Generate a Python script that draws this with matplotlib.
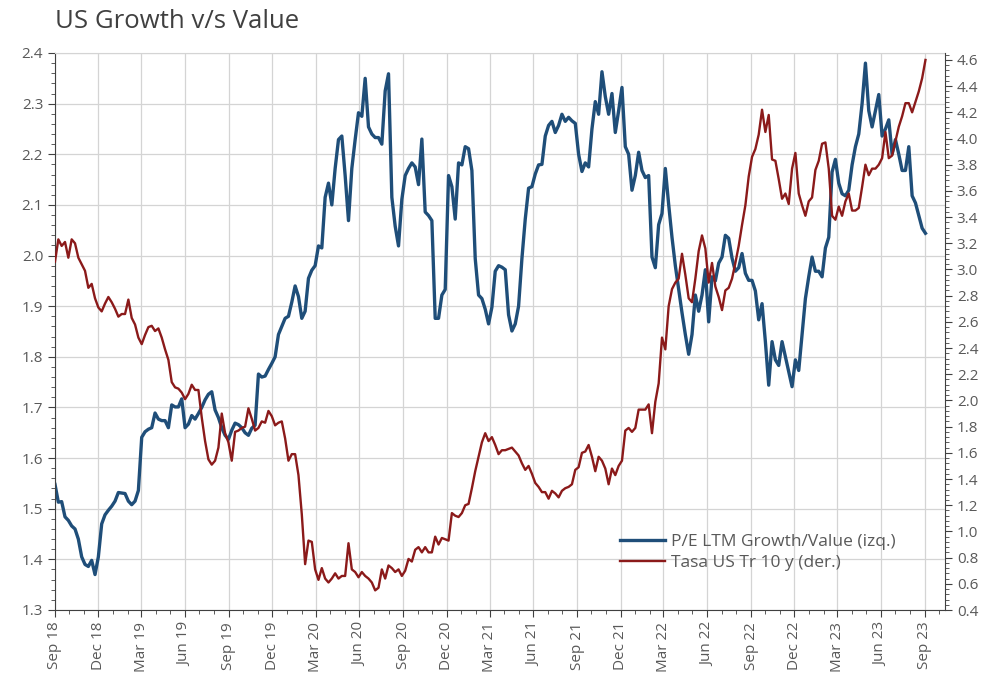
import numpy as np
import pandas as pd
import matplotlib
matplotlib.use("Agg")
import matplotlib.pyplot as plt
from matplotlib.ticker import MultipleLocator, FormatStrFormatter

plt.rcParams["font.family"] = ["Open Sans", "DejaVu Sans"]

# weekly observations, Sep 2018 -> Sep 2023
start = "2018-09-28"
n_weeks = 262

# P/E LTM Growth/Value (left axis)
pe_growth_value = [
    1.548, 1.513, 1.514, 1.484, 1.477, 1.466, 1.46, 1.44, 1.405, 1.39,
    1.386, 1.398, 1.37, 1.405, 1.47, 1.488, 1.497, 1.505, 1.515, 1.532,
    1.531, 1.53, 1.515, 1.508, 1.515, 1.536, 1.641, 1.652, 1.657, 1.66,
    1.689, 1.677, 1.674, 1.674, 1.66, 1.705, 1.701, 1.701, 1.717, 1.66,
    1.667, 1.684, 1.677, 1.688, 1.70, 1.715, 1.726, 1.731, 1.695, 1.68,
    1.66, 1.645, 1.637, 1.655, 1.669, 1.666, 1.66, 1.65, 1.645, 1.659,
    1.665, 1.766, 1.76, 1.762, 1.775, 1.787, 1.80, 1.844, 1.86, 1.876,
    1.88, 1.908, 1.94, 1.919, 1.876, 1.89, 1.955, 1.971, 1.98, 2.019,
    2.015, 2.115, 2.143, 2.10, 2.172, 2.229, 2.236, 2.158, 2.069, 2.172,
    2.229, 2.282, 2.275, 2.35, 2.254, 2.24, 2.233, 2.233, 2.22, 2.325,
    2.359, 2.115, 2.058, 2.019, 2.111, 2.158, 2.172, 2.183, 2.175, 2.14,
    2.23, 2.086, 2.079, 2.069, 1.876, 1.876, 1.922, 1.933, 2.158, 2.136,
    2.072, 2.183, 2.179, 2.215, 2.211, 2.168, 1.994, 1.922, 1.915, 1.894,
    1.865, 1.898, 1.969, 1.98, 1.977, 1.972, 1.883, 1.851, 1.865, 1.90,
    1.994, 2.072, 2.133, 2.136, 2.161, 2.179, 2.18, 2.236, 2.257, 2.265,
    2.243, 2.257, 2.279, 2.265, 2.273, 2.266, 2.261, 2.20, 2.166, 2.183,
    2.175, 2.25, 2.304, 2.279, 2.363, 2.314, 2.279, 2.32, 2.243, 2.286,
    2.332, 2.215, 2.20, 2.129, 2.158, 2.204, 2.168, 2.154, 2.158, 1.997,
    1.976, 2.061, 2.083, 2.172, 2.101, 2.036, 1.98, 1.933, 1.887, 1.844,
    1.805, 1.844, 1.922, 1.89, 1.922, 1.972, 1.869, 1.958, 1.95, 1.985,
    1.997, 2.04, 2.034, 1.995, 1.969, 1.976, 2.004, 1.965, 1.951, 1.951,
    1.93, 1.873, 1.905, 1.83, 1.744, 1.83, 1.794, 1.783, 1.83, 1.80,
    1.769, 1.741, 1.794, 1.773, 1.844, 1.915, 1.958, 1.997, 1.969, 1.969,
    1.958, 2.015, 2.036, 2.165, 2.19, 2.143, 2.122, 2.118, 2.129, 2.179,
    2.215, 2.24, 2.30, 2.38, 2.286, 2.254, 2.286, 2.318, 2.236, 2.25,
    2.268, 2.20, 2.229, 2.20, 2.168, 2.168, 2.215, 2.118, 2.104, 2.079,
    2.054, 2.044,
]

# Tasa US Tr 10 y (right axis)
us_10y = [
    3.06, 3.23, 3.18, 3.21, 3.09, 3.23, 3.20, 3.09, 3.04, 2.99,
    2.86, 2.89, 2.78, 2.71, 2.68, 2.74, 2.79, 2.75, 2.70, 2.64,
    2.66, 2.66, 2.77, 2.63, 2.58, 2.48, 2.43, 2.50, 2.56, 2.57,
    2.53, 2.55, 2.48, 2.39, 2.31, 2.14, 2.10, 2.09, 2.06, 2.01,
    2.05, 2.12, 2.08, 2.08, 1.87, 1.69, 1.55, 1.51, 1.54, 1.64,
    1.90, 1.75, 1.68, 1.54, 1.76, 1.77, 1.79, 1.80, 1.94, 1.86,
    1.77, 1.79, 1.84, 1.83, 1.92, 1.88, 1.81, 1.83, 1.84, 1.71,
    1.54, 1.59, 1.59, 1.43, 1.13, 0.75, 0.93, 0.92, 0.71, 0.63,
    0.72, 0.64, 0.61, 0.64, 0.68, 0.64, 0.66, 0.66, 0.91, 0.71,
    0.69, 0.65, 0.69, 0.66, 0.64, 0.61, 0.55, 0.57, 0.71, 0.64,
    0.74, 0.72, 0.69, 0.71, 0.66, 0.70, 0.79, 0.77, 0.86, 0.88,
    0.84, 0.88, 0.84, 0.84, 0.96, 0.90, 0.95, 0.94, 0.93, 1.14,
    1.12, 1.11, 1.14, 1.20, 1.21, 1.33, 1.46, 1.57, 1.68, 1.75,
    1.69, 1.72, 1.66, 1.59, 1.62, 1.62, 1.63, 1.64, 1.61, 1.58,
    1.52, 1.47, 1.50, 1.44, 1.37, 1.34, 1.30, 1.30, 1.25, 1.31,
    1.29, 1.26, 1.31, 1.33, 1.34, 1.36, 1.47, 1.49, 1.60, 1.61,
    1.66, 1.57, 1.46, 1.57, 1.54, 1.48, 1.36, 1.48, 1.43, 1.50,
    1.54, 1.77, 1.79, 1.76, 1.79, 1.93, 1.93, 1.93, 1.97, 1.75,
    1.99, 2.13, 2.48, 2.39, 2.72, 2.85, 2.90, 2.93, 3.12, 2.96,
    2.78, 2.75, 2.93, 3.14, 3.26, 3.16, 2.90, 3.05, 2.87, 2.79,
    2.69, 2.84, 2.86, 2.93, 3.05, 3.18, 3.34, 3.49, 3.71, 3.86,
    3.92, 4.03, 4.22, 4.05, 4.18, 3.84, 3.83, 3.69, 3.54, 3.58,
    3.50, 3.77, 3.89, 3.58, 3.49, 3.41, 3.52, 3.55, 3.76, 3.83,
    3.96, 3.97, 3.77, 3.41, 3.38, 3.48, 3.41, 3.52, 3.58, 3.45,
    3.45, 3.47, 3.63, 3.80, 3.72, 3.77, 3.77, 3.80, 3.85, 4.05,
    3.85, 3.87, 3.98, 4.09, 4.17, 4.27, 4.27, 4.20, 4.28, 4.36,
    4.46, 4.60,
]

label_pe = "P/E LTM Growth/Value (izq.)"
label_10y = "Tasa US Tr 10 y (der.)"

dates = pd.date_range(start, periods=n_weeks, freq="7D")
t0 = pd.Timestamp(start)
q_ticks = [t0 + pd.DateOffset(months=3 * i) for i in range(21)]
m_ticks = [t0 + pd.DateOffset(months=i) for i in range(62)]

blue = "#1f4e79"
red = "#8b1a1a"
txt = "#595959"

fig = plt.figure(figsize=(9.96, 6.74), dpi=100)
ax1 = fig.add_axes([55 / 996, 1 - 610 / 674, 890 / 996, 557 / 674])
ax2 = ax1.twinx()

l1, = ax1.plot(dates, pe_growth_value, color=blue, lw=2.4, label=label_pe)
l2, = ax2.plot(dates, us_10y, color=red, lw=1.7, label=label_10y)

ax1.set_xlim(t0, t0 + pd.Timedelta(days=1868))
ax1.set_xticks(q_ticks)
ax1.set_xticks(m_ticks, minor=True)
ax1.set_xticklabels([d.strftime("%b %y") for d in q_ticks], rotation=90)

ax1.set_ylim(1.3, 2.4)
ax1.yaxis.set_major_locator(MultipleLocator(0.1))
ax1.yaxis.set_minor_locator(MultipleLocator(0.02))
ax1.yaxis.set_major_formatter(FormatStrFormatter("%.1f"))

ax2.set_ylim(0.4, 4.653)
ax2.set_yticks(np.round(np.arange(0.4, 4.61, 0.2), 1))
ax2.yaxis.set_minor_locator(MultipleLocator(0.04))
ax2.yaxis.set_major_formatter(FormatStrFormatter("%.1f"))

ax1.grid(True, which="major", color="#d4d4d4", lw=0.9)
ax1.set_axisbelow(True)

for ax in (ax1, ax2):
    ax.tick_params(which="major", length=5, color="#404040", labelcolor=txt, labelsize=11)
    ax.tick_params(which="minor", length=3, color="#404040")
    for s in ax.spines.values():
        s.set_color("#404040")
ax1.spines["right"].set_visible(False)
ax1.spines["top"].set_color("#d4d4d4")
ax2.spines["top"].set_visible(False)
ax2.spines["left"].set_visible(False)
ax2.spines["bottom"].set_visible(False)

fig.text(55 / 996, 1 - 21 / 674, "US Growth v/s Value", fontsize=18.5, color="#404040",
         va="center", ha="left")

fig.legend([l1, l2], [label_pe, label_10y], loc="upper left",
           bbox_to_anchor=(611 / 996, 1 - 525 / 674), frameon=False,
           fontsize=12.5, handlelength=2.6, handletextpad=0.35,
           labelspacing=0.3, borderpad=0, labelcolor=txt)

fig.savefig("out.png", dpi=100)
